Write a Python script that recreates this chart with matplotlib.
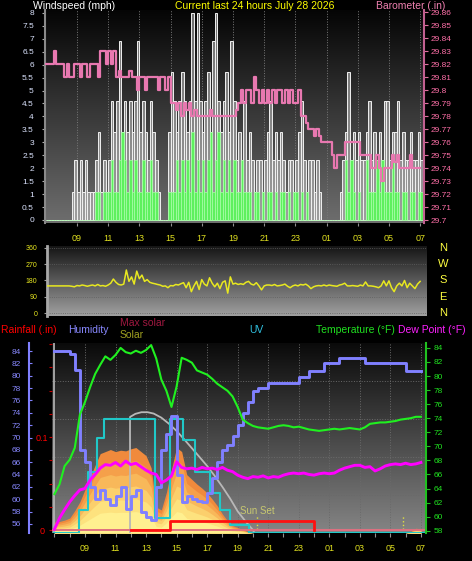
import numpy as np
import matplotlib
matplotlib.use("Agg")
import matplotlib.pyplot as plt
from matplotlib.ticker import MultipleLocator, FuncFormatter
from matplotlib.colors import LinearSegmentedColormap

plt.rcParams['font.family'] = ['Liberation Sans', 'DejaVu Sans']
NARROW = ['Liberation Sans Narrow', 'Liberation Sans', 'DejaVu Sans']

W, H = 472, 561

# ---------------- data ----------------
hour_ticks = [9, 11, 13, 15, 17, 19, 21, 23, 25, 27, 29, 31]
hour_labels = ["09", "11", "13", "15", "17", "19", "21", "23", "01", "03", "05", "07"]

# 10 minute samples starting 07:00
gust = [0, 0, 0, 0, 0, 0,
        0, 0, 0, 0, 1.1, 2.3,
        1.1, 2.3, 1.1, 2.3, 1.1, 1.1,
        1.1, 2.3, 3.4, 1.1, 2.3, 1.1,
        2.3, 4.6, 3.4, 4.6, 6.9, 3.4,
        4.6, 3.4, 4.6, 3.4, 4.6, 6.9,
        3.4, 4.6, 3.4, 2.3, 4.6, 3.4,
        2.3, 1.1, 0, 0, 0, 3.4,
        5.7, 4.6, 3.4, 4.6, 5.7, 4.6,
        3.4, 4.6, 8.0, 4.6, 8.0, 4.6,
        3.4, 4.6, 5.7, 3.4, 6.9, 8.0,
        4.6, 3.4, 4.6, 5.7, 3.4, 6.9,
        4.6, 2.3, 3.4, 2.3, 4.6, 2.3,
        3.4, 2.3, 1.1, 2.3, 2.3, 1.1,
        2.3, 3.4, 4.6, 2.3, 3.4, 2.3,
        3.4, 2.3, 1.1, 2.3, 2.3, 1.1,
        2.3, 3.4, 4.6, 2.3, 1.1, 2.3,
        2.3, 1.1, 2.3, 1.1, 0, 0,
        0, 0, 0, 0, 0, 1.1,
        2.3, 3.4, 5.7, 2.3, 3.4, 2.3,
        3.4, 2.3, 2.3, 3.4, 4.6, 2.3,
        3.4, 2.3, 3.4, 2.3, 4.6, 4.6,
        2.3, 3.4, 3.4, 4.6, 2.3, 3.4,
        2.3, 2.3, 3.4, 2.3, 2.3, 3.4,
        2.3]
wind_avg = [0, 0, 0, 0, 0, 0,
            0, 0, 0, 0, 0, 0,
            0, 0, 0, 0, 0, 0,
            0, 1.1, 1.1, 0, 1.1, 1.1,
            1.1, 2.3, 1.1, 1.1, 2.3, 3.4,
            2.3, 1.1, 2.3, 1.1, 2.3, 1.1,
            1.1, 2.3, 1.1, 1.1, 2.3, 1.1,
            1.1, 0, 0, 0, 0, 1.1,
            1.1, 1.1, 2.3, 1.1, 2.3, 1.1,
            2.3, 1.1, 3.4, 1.1, 2.3, 1.1,
            2.3, 1.1, 2.3, 3.4, 1.1, 2.3,
            3.4, 1.1, 2.3, 1.1, 2.3, 1.1,
            2.3, 1.1, 1.1, 2.3, 1.1, 1.1,
            1.1, 0, 1.1, 1.1, 0, 1.1,
            0, 1.1, 1.1, 0, 1.1, 0,
            1.1, 1.1, 0, 1.1, 0, 1.1,
            1.1, 0, 1.1, 0, 1.1, 0,
            0, 0, 0, 0, 0, 0,
            0, 0, 0, 0, 0, 0,
            0, 2.3, 1.1, 2.3, 1.1, 0,
            1.1, 0, 0, 2.3, 1.1, 1.1,
            1.1, 2.3, 1.1, 2.3, 1.1, 1.1,
            1.1, 2.3, 1.1, 1.1, 0, 1.1,
            1.1, 0, 1.1, 1.1, 0, 1.1,
            1.1]
baro = [29.82, 29.82, 29.82, 29.83, 29.82, 29.82,
        29.82, 29.81, 29.82, 29.81, 29.81, 29.82,
        29.82, 29.81, 29.82, 29.82, 29.81, 29.82,
        29.82, 29.82, 29.81, 29.83, 29.83, 29.82,
        29.83, 29.82, 29.83, 29.81, 29.815, 29.81,
        29.81, 29.81, 29.815, 29.81, 29.81, 29.80,
        29.81, 29.81, 29.80, 29.81, 29.81, 29.81,
        29.81, 29.80, 29.81, 29.81, 29.80, 29.81,
        29.79, 29.79, 29.785, 29.79, 29.78, 29.79,
        29.785, 29.79, 29.78, 29.785, 29.78, 29.78,
        29.78, 29.78, 29.78, 29.785, 29.78, 29.78,
        29.78, 29.78, 29.78, 29.78, 29.78, 29.78,
        29.78, 29.785, 29.79, 29.80, 29.79, 29.80,
        29.80, 29.79, 29.81, 29.80, 29.79, 29.80,
        29.79, 29.80, 29.79, 29.80, 29.79, 29.80,
        29.80, 29.79, 29.80, 29.79, 29.80, 29.79,
        29.79, 29.80, 29.78, 29.78, 29.775, 29.77,
        29.77, 29.765, 29.77, 29.765, 29.76, 29.76,
        29.76, 29.76, 29.75, 29.74, 29.75, 29.75,
        29.75, 29.76, 29.76, 29.76, 29.76, 29.76,
        29.76, 29.75, 29.75, 29.75, 29.75, 29.74,
        29.74, 29.75, 29.74, 29.73, 29.74, 29.74,
        29.74, 29.75, 29.745, 29.75, 29.74, 29.74,
        29.74, 29.74, 29.75, 29.74, 29.74, 29.74,
        29.74]
wind_dir = [150, 150, 150, 150, 150, 150,
            150, 150, 150, 150, 148, 145,
            152, 150, 155, 152, 148, 152,
            155, 150, 158, 150, 152, 148,
            155, 165, 188, 170, 158, 155,
            160, 238, 175, 200, 160, 232,
            190, 210, 175, 185, 170, 165,
            162, 158, 155, 148, 150, 140,
            152, 150, 158, 155, 162, 168,
            140, 170, 118, 150, 175, 130,
            185, 160, 150, 195, 165, 145,
            165, 135, 170, 178, 110, 200,
            160, 165, 158, 162, 158, 170,
            175, 160, 155, 168, 150, 128,
            150, 155, 155, 152, 158, 150,
            152, 155, 160, 148, 140, 150,
            155, 150, 158, 155, 160, 150,
            135, 145, 150, 152, 150, 155,
            150, 155, 152, 150, 148, 155,
            158, 165, 150, 150, 152, 150,
            148, 155, 150, 172, 150, 150,
            148, 145, 140, 150, 178, 150,
            178, 140, 118, 150, 165, 150,
            180, 140, 165, 150, 135, 160,
            175]
compass_deg = [360, 270, 180, 90, 0]
compass_labels = ["N", "W", "S", "E", "N"]

# 20 minute samples starting 07:00
temp = [63.2, 64.6, 67.2, 68.1, 69.8, 74.5, 76.3, 78.4, 80.3, 81.6, 82.8, 82.3,
        83.0, 84.0, 83.4, 83.2, 83.6, 83.3, 83.7, 84.4, 82.5, 79.5, 77.9, 75.6,
        78.5, 82.6, 82.3, 81.9, 80.8, 80.5, 80.2, 79.6, 78.9, 78.4, 77.9, 77.1,
        75.6, 73.8, 73.3, 72.9, 72.7, 72.6, 72.5, 72.7, 72.9, 73.0, 72.9, 72.7,
        72.8, 72.6, 72.4, 72.3, 72.2, 72.3, 72.4, 72.5, 72.4, 72.5, 72.6, 72.5,
        72.4, 72.7, 73.2, 73.3, 73.4, 73.4, 73.5, 73.6, 73.8, 73.9, 74.0, 74.2,
        74.2]
dew = [58.2, 59.8, 61.0, 62.1, 63.0, 63.8, 64.0, 65.2, 66.0, 66.9, 67.4, 67.3,
       67.7, 67.2, 67.9, 67.4, 67.6, 67.1, 66.6, 66.2, 66.0, 64.8, 65.2, 65.8,
       67.8, 67.0, 66.8, 66.9, 66.7, 67.0, 66.8, 66.9, 66.7, 67.0, 66.6, 66.4,
       65.9, 65.6, 65.4, 65.7, 65.6, 65.8, 65.5, 65.7, 65.6, 65.9, 66.1, 66.2,
       66.1, 66.2, 66.0, 65.9, 66.1, 66.2, 66.1, 66.2, 66.6, 66.9, 67.1, 67.3,
       67.3, 67.0, 67.1, 66.5, 66.8, 67.2, 67.4, 67.5, 67.4, 67.6, 67.4, 67.5,
       67.7]
humidity = [84, 84, 84, 83.5, 81.0, 68.0, 66.0, 62.0, 60.0, 61.5, 60.0, 59.0,
            60.5, 62.0, 58.5, 60.5, 61.5, 58.0, 57.2, 56.6, 62.0, 68.0, 70.5, 73.5,
            64.0, 59.5, 60.5, 60.0, 59.8, 59.5, 61.0, 63.5, 66.0, 68.0, 68.8, 70.3,
            72.0, 74.0, 75.8, 77.5, 78.0, 78.0, 78.8, 78.8, 78.8, 78.8, 78.8, 78.8,
            79.8, 79.8, 80.8, 80.8, 80.8, 82.1, 82.1, 82.1, 82.9, 82.9, 82.9, 82.9,
            82.9, 82.1, 82.1, 82.1, 82.1, 82.1, 82.1, 82.1, 82.1, 80.8, 80.8, 80.8,
            80.8]
solar = [80, 85, 95, 110, 165, 230, 320, 410, 500, 585, 600, 615,
         600, 610, 605, 620, 630, 600, 570, 480, 190, 170, 300, 470,
         630, 600, 430, 395, 360, 330, 295, 250, 200, 140, 90, 55,
         40, 25, 8, 0, 0, 0, 0, 0, 0, 0, 0, 0,
         0, 0, 0, 0, 0, 0, 0, 0, 0, 0, 0, 0,
         0, 0, 0, 0, 0, 0, 0, 0, 0, 0, 10, 35,
         30]
max_solar_t = [11.95, 11.95, 12.3, 12.7, 13.1, 13.5, 14.0, 14.5, 15.0, 15.5,
               16.0, 16.5, 17.0, 17.5, 18.0, 18.5, 19.0, 19.5, 20.0, 20.1]
max_solar = [0, 855, 878, 890, 890, 880, 850, 805, 752, 690,
             625, 560, 494, 420, 340, 255, 160, 88, 22, 0]
uv_t = [6.97, 8.6, 9.2, 9.8, 10.25, 13.6, 14.57, 15.45, 16.2, 17.2, 17.85, 18.5, 19.75, 31.2]
uv = [0, 1.2, 3.2, 5.0, 6.0, 0.8, 6.0, 4.9, 3.2, 2.1, 1.2, 0.4, 0, 0]
rain_t = [12.0, 14.57, 24.0]
rain = [0, 0.01, 0]
sun_events = [20.27, 29.83]

t10 = 7 + np.arange(len(gust)) / 6
t20 = 7 + np.arange(len(temp)) / 3


def box(l, t, r, b):
    return [l / W, 1 - b / H, (r - l) / W, (b - t) / H]


def gradient_bg(ax, top, bottom):
    cmap = LinearSegmentedColormap.from_list('bg', [bottom, top])
    ax.imshow(np.linspace(0, 1, 256).reshape(-1, 1), cmap=cmap, aspect='auto',
              extent=[0, 1, 0, 1], transform=ax.transAxes, origin='lower', zorder=0)


def hide_spines(ax):
    for s in ax.spines.values():
        s.set_visible(False)


def ftext(x, y, s, color, size=7.5, ha='left'):
    fig.text(x / W, 1 - y / H, s, color=color, fontsize=size, ha=ha, va='center')


fig = plt.figure(figsize=(W / 100, H / 100), dpi=100, facecolor='black')

# ---------------- wind / barometer ----------------
ax1 = fig.add_axes(box(45, 10, 424, 223))
gradient_bg(ax1, '#050505', '#6e6e6e')
ax1.bar(t10, gust, width=1 / 6, align='edge', facecolor=(0.78, 0.78, 0.78, 0.55),
        edgecolor='#f0f0f0', lw=0.7, zorder=2)
ax1.bar(t10, wind_avg, width=1 / 6, align='edge', facecolor='#5ef05e',
        edgecolor='#a8ffa8', lw=0.5, zorder=4)
ax1.set_xlim(6.95, 31.24)
ax1.set_ylim(-0.116, 8.11)
hide_spines(ax1)
ax1.spines['left'].set_visible(True)
ax1.spines['left'].set_color('#8a8a8a')
ax1.spines['left'].set_linewidth(1.5)
ax1.yaxis.set_major_locator(MultipleLocator(0.5))
ax1.yaxis.set_minor_locator(MultipleLocator(1))
ax1.yaxis.set_major_formatter(FuncFormatter(lambda v, p: f'{v:g}'))
ax1.tick_params(axis='y', which='major', color='#b0b0b0', labelcolor='#dce4ff', labelsize=6,
                length=2.5, width=0.8, pad=5.5, labelfontfamily=NARROW)
ax1.tick_params(axis='y', which='minor', length=0)
ax1.set_xticks(hour_ticks, hour_labels)
ax1.tick_params(axis='x', color='#909090', labelcolor='#e0e020', labelsize=6.5,
                length=2.2, width=0.8, pad=5.5)
ax1.grid(axis='x', color='#7a7a7a', ls=':', lw=0.7)
ax1.grid(axis='y', which='minor', color='#7a7a7a', ls=':', lw=0.7)

ax1b = ax1.twinx()
ax1b.step(t10, baro, where='post', color='#e878b0', lw=1.6)
ax1b.set_ylim(29.6979, 29.8618)
hide_spines(ax1b)
ax1b.spines['right'].set_visible(True)
ax1b.spines['right'].set_color('#c06090')
ax1b.spines['right'].set_linewidth(1.5)
ax1b.yaxis.set_major_locator(MultipleLocator(0.01))
ax1b.yaxis.set_major_formatter(FuncFormatter(lambda v, p: f'{v:.2f}'.rstrip('0')))
ax1b.tick_params(axis='y', color='#e070a0', labelcolor='#ff70a8', labelsize=6,
                 length=3, width=0.8, pad=1.5, labelfontfamily=NARROW)

ftext(33, 6, "Windspeed (mph)", 'white')
ftext(175, 6, "Current last 24 hours July 28 2026", '#ffff00')
ftext(376, 6, "Barometer (.in)", '#f080b0')

# ---------------- wind direction ----------------
ax2 = fig.add_axes(box(47, 246, 427, 316))
gradient_bg(ax2, '#151515', '#a0a0a0')
ax2.plot(t10, wind_dir, color='#e8e820', lw=1.1, zorder=3)
ax2.set_xlim(7.08, 31.44)
ax2.set_ylim(-16.6, 371)
hide_spines(ax2)
ax2.spines['left'].set_visible(True)
ax2.spines['left'].set_color('#a8a8a8')
ax2.spines['left'].set_linewidth(2)
ax2.set_xticks([])
ax2.set_yticks(compass_deg)
ax2.tick_params(axis='y', color='#a0a0a0', labelcolor='#e8e820', labelsize=5,
                length=2, width=0.8, pad=5, labelfontfamily=NARROW)
ax2.grid(axis='y', color='#606060', ls=':', lw=0.6)
for d, lab in zip(compass_deg, compass_labels):
    ax2.text(1.042, d, lab, transform=ax2.get_yaxis_transform(), color='#ffff40',
             fontsize=8, ha='center', va='center')

# ---------------- solar / temperature / humidity ----------------
ax3 = fig.add_axes(box(52, 343, 425, 533))
gradient_bg(ax3, '#0a0a0a', '#858585')
s = np.array(solar, dtype=float)
layer_fracs = [1.0, 0.85, 0.7, 0.55, 0.4, 0.25]
layer_colors = ['#f08a3c', '#f5a04a', '#f8b85a', '#fbcf6c', '#fde27e', '#fff090']
for f, c in zip(layer_fracs, layer_colors):
    ax3.fill_between(t20, s * f, color=c, lw=0, zorder=2)
ax3.plot(max_solar_t, max_solar, color='#b8b8b8', lw=1.3, zorder=3)
ax3.axvline(t20[0], color='#b8b8b8', lw=1.2, zorder=3)
for se in sun_events:
    ax3.axvline(se, ymax=0.095, color='#e0e040', lw=1.0, ls=':', zorder=3)
ax3.axhline(0, color='#e0e040', lw=0.8, ls=':', zorder=3)
ax3.text(sun_events[0], 0.116, "Sun Set", transform=ax3.get_xaxis_transform(),
         color='#c8c870', fontsize=7, ha='center', va='center', zorder=4)
ax3.set_xlim(6.84, 31.27)
ax3.set_ylim(0, 1400)
hide_spines(ax3)
ax3.set_yticks([280, 560, 840, 1120])
ax3.tick_params(axis='y', length=0, labelleft=False)
ax3.set_xticks(hour_ticks, hour_labels)
ax3.xaxis.set_minor_locator(MultipleLocator(1))
ax3.tick_params(axis='x', which='both', color='#909090', labelcolor='#e0e020', labelsize=6.5,
                length=3, width=0.8, pad=5)
ax3.grid(color='#6a6a6a', ls=':', lw=0.7)

ax_uv = ax3.twinx()
ax_uv.step(uv_t, uv, where='post', color='#20c8c8', lw=1.5)
ax_uv.set_ylim(0, 10)
ax_uv.axis('off')

ax_r = ax3.twinx()
ax_r.axhline(0, color='#e07080', lw=1.4)
ax_r.step(rain_t, rain, where='post', color='#ff1010', lw=2)
ax_r.set_ylim(-0.0032, 0.2011)
hide_spines(ax_r)
ax_r.yaxis.set_ticks_position('left')
ax_r.yaxis.set_label_position('left')
ax_r.set_yticks([0, 0.1], ['0', '0.1'])
ax_r.yaxis.set_minor_locator(MultipleLocator(0.025))
ax_r.tick_params(axis='y', which='both', color='#c00000', labelcolor='#ff0000', labelsize=6.5,
                 length=2, width=0.8, pad=5, labelfontfamily=NARROW)
for lab in ax_r.get_yticklabels():
    lab.set_horizontalalignment('center')

ax_h = ax3.twinx()
ax_h.step(t20, humidity, where='post', color='#8080ff', lw=2.1)
ax_h.set_ylim(54.54, 85.3)
hide_spines(ax_h)
ax_h.spines['left'].set_visible(True)
ax_h.spines['left'].set_position(('outward', 16.6))
ax_h.spines['left'].set_color('#8080ff')
ax_h.spines['left'].set_linewidth(1.5)
ax_h.yaxis.set_ticks_position('left')
ax_h.yaxis.set_label_position('left')
ax_h.set_yticks(np.arange(56, 85, 2))
ax_h.tick_params(axis='y', color='#8080ff', labelcolor='#8888ff', labelsize=6,
                 length=2.5, width=0.8, pad=6, direction='in', labelfontfamily=NARROW)

ax_t = ax3.twinx()
ax_t.plot(t20, dew, color='#ff00ff', lw=2.1)
ax_t.plot(t20, temp, color='#20f020', lw=1.5)
ax_t.set_ylim(57.67, 84.7)
hide_spines(ax_t)
ax_t.spines['right'].set_visible(True)
ax_t.spines['right'].set_position(('outward', 1))
ax_t.spines['right'].set_color('#20c020')
ax_t.spines['right'].set_linewidth(1.5)
ax_t.set_yticks(np.arange(58, 85, 2))
ax_t.tick_params(axis='y', color='#20c020', labelcolor='#20e020', labelsize=6,
                 length=3, width=0.8, pad=2, labelfontfamily=NARROW)

ftext(1, 330, "Rainfall (.in)", '#ff0000')
ftext(68, 330, "Humidity", '#8888ff')
ftext(120, 323, "Max solar", '#a01840')
ftext(120, 335, "Solar", '#a0a020')
ftext(249, 330, "UV", '#30c0e0')
ftext(316, 330, "Temperature (°F)", '#20e020')
ftext(398, 330, "Dew Point (°F)", '#ff20ff')

fig.savefig("out.png", dpi=100, facecolor='black')
